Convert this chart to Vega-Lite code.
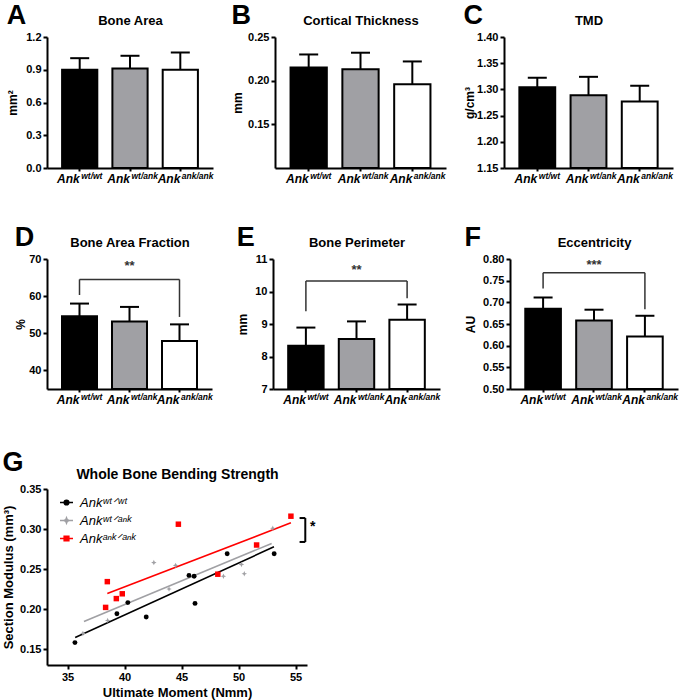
{
  "$schema": "https://vega.github.io/schema/vega-lite/v6.json",
  "padding": {"left": 2, "top": 2, "right": 0, "bottom": 2},
  "background": "white",
  "datasets": {
    "A": [{"group": "wt/wt", "mean": 0.9, "upper": 1.006}, {"group": "wt/ank", "mean": 0.912, "upper": 1.028}, {"group": "ank/ank", "mean": 0.9, "upper": 1.058}],
    "B": [{"group": "wt/wt", "mean": 0.215, "upper": 0.230}, {"group": "wt/ank", "mean": 0.213, "upper": 0.232}, {"group": "ank/ank", "mean": 0.196, "upper": 0.222}],
    "C": [{"group": "wt/wt", "mean": 1.304, "upper": 1.322}, {"group": "wt/ank", "mean": 1.289, "upper": 1.324}, {"group": "ank/ank", "mean": 1.277, "upper": 1.307}],
    "D": [{"group": "wt/wt", "mean": 54.6, "upper": 58.0}, {"group": "wt/ank", "mean": 53.2, "upper": 57.1}, {"group": "ank/ank", "mean": 47.9, "upper": 52.4}],
    "E": [{"group": "wt/wt", "mean": 8.33, "upper": 8.89}, {"group": "wt/ank", "mean": 8.54, "upper": 9.08}, {"group": "ank/ank", "mean": 9.13, "upper": 9.6}],
    "F": [{"group": "wt/wt", "mean": 0.685, "upper": 0.711}, {"group": "wt/ank", "mean": 0.658, "upper": 0.683}, {"group": "ank/ank", "mean": 0.621, "upper": 0.669}],
    "brD": [{"x": "wt/wt", "x2": "ank/ank", "y": 64.5, "y2": 64.5}, {"x": "wt/wt", "x2": "wt/wt", "y": 60.3, "y2": 64.5}, {"x": "ank/ank", "x2": "ank/ank", "y": 54.4, "y2": 64.5}],
    "brE": [{"x": "wt/wt", "x2": "ank/ank", "y": 10.32, "y2": 10.32}, {"x": "wt/wt", "x2": "wt/wt", "y": 9.39, "y2": 10.32}, {"x": "ank/ank", "x2": "ank/ank", "y": 9.79, "y2": 10.32}],
    "brF": [{"x": "wt/wt", "x2": "ank/ank", "y": 0.768, "y2": 0.768}, {"x": "wt/wt", "x2": "wt/wt", "y": 0.732, "y2": 0.768}, {"x": "ank/ank", "x2": "ank/ank", "y": 0.684, "y2": 0.768}],
    "sigD": [{"x": "wt/ank", "y": 68.0, "label": "**"}],
    "sigE": [{"x": "wt/ank", "y": 10.65, "label": "**"}],
    "sigF": [{"x": "wt/ank", "y": 0.787, "label": "***"}],
    "pts": [
      {"group": "Ankʷᵗᐟʷᵗ", "x": 35.65, "y": 0.158}, {"group": "Ankʷᵗᐟʷᵗ", "x": 39.33, "y": 0.194}, {"group": "Ankʷᵗᐟʷᵗ", "x": 40.29, "y": 0.208}, {"group": "Ankʷᵗᐟʷᵗ", "x": 41.9, "y": 0.190}, {"group": "Ankʷᵗᐟʷᵗ", "x": 45.65, "y": 0.242}, {"group": "Ankʷᵗᐟʷᵗ", "x": 46.1, "y": 0.241}, {"group": "Ankʷᵗᐟʷᵗ", "x": 46.18, "y": 0.207}, {"group": "Ankʷᵗᐟʷᵗ", "x": 49.0, "y": 0.269}, {"group": "Ankʷᵗᐟʷᵗ", "x": 53.12, "y": 0.269},
      {"group": "Ankʷᵗᐟᵃⁿᵏ", "x": 36.35, "y": 0.1695}, {"group": "Ankʷᵗᐟᵃⁿᵏ", "x": 38.52, "y": 0.1856}, {"group": "Ankʷᵗᐟᵃⁿᵏ", "x": 42.57, "y": 0.258}, {"group": "Ankʷᵗᐟᵃⁿᵏ", "x": 43.9, "y": 0.225}, {"group": "Ankʷᵗᐟᵃⁿᵏ", "x": 44.48, "y": 0.2545}, {"group": "Ankʷᵗᐟᵃⁿᵏ", "x": 48.67, "y": 0.241}, {"group": "Ankʷᵗᐟᵃⁿᵏ", "x": 50.25, "y": 0.2557}, {"group": "Ankʷᵗᐟᵃⁿᵏ", "x": 50.5, "y": 0.244}, {"group": "Ankʷᵗᐟᵃⁿᵏ", "x": 53.0, "y": 0.301},
      {"group": "Ankᵃⁿᵏᐟᵃⁿᵏ", "x": 38.49, "y": 0.2342}, {"group": "Ankᵃⁿᵏᐟᵃⁿᵏ", "x": 38.34, "y": 0.202}, {"group": "Ankᵃⁿᵏᐟᵃⁿᵏ", "x": 39.28, "y": 0.213}, {"group": "Ankᵃⁿᵏᐟᵃⁿᵏ", "x": 39.8, "y": 0.219}, {"group": "Ankᵃⁿᵏᐟᵃⁿᵏ", "x": 44.72, "y": 0.306}, {"group": "Ankᵃⁿᵏᐟᵃⁿᵏ", "x": 48.18, "y": 0.2435}, {"group": "Ankᵃⁿᵏᐟᵃⁿᵏ", "x": 51.58, "y": 0.280}, {"group": "Ankᵃⁿᵏᐟᵃⁿᵏ", "x": 54.59, "y": 0.316}
    ],
    "fits": [
      {"group": "Ankʷᵗᐟʷᵗ", "x": 35.67, "y": 0.1645}, {"group": "Ankʷᵗᐟʷᵗ", "x": 53.1, "y": 0.2777},
      {"group": "Ankʷᵗᐟᵃⁿᵏ", "x": 36.44, "y": 0.1843}, {"group": "Ankʷᵗᐟᵃⁿᵏ", "x": 52.9, "y": 0.282},
      {"group": "Ankᵃⁿᵏᐟᵃⁿᵏ", "x": 38.49, "y": 0.2194}, {"group": "Ankᵃⁿᵏᐟᵃⁿᵏ", "x": 54.59, "y": 0.3077}
    ],
    "brG": [{"x": 55.85, "x2": 55.85, "y": 0.2838, "y2": 0.3137}, {"x": 55.35, "x2": 55.85, "y": 0.3137, "y2": 0.3137}, {"x": 55.35, "x2": 55.85, "y": 0.2838, "y2": 0.2838}],
    "sigG": [{"x": 56.5, "y": 0.302, "label": "*"}]
  },
  "spacing": 44,
  "vconcat": [
    {
      "spacing": 40,
      "vconcat": [
        {
          "spacing": 17,
          "hconcat": [
            {
              "width": 166, "height": 131,
              "title": {"text": "A"},
              "data": {"name": "A"},
              "layer": [
                {"mark": {"type": "bar", "stroke": "black", "strokeWidth": 2},
                 "encoding": {
                   "x": {"field": "group", "type": "nominal", "scale": {"domain": ["wt/wt", "wt/ank", "ank/ank"], "paddingInner": 0.3, "paddingOuter": 0.3}, "axis": {"title": null, "labelExpr": "'Ank'", "labelAlign": "right", "labelDx": 3}},
                   "y": {"field": "mean", "type": "quantitative", "title": "mm²", "scale": {"domain": [0, 1.2], "nice": false, "zero": false}, "axis": {"values": [0, 0.3, 0.6, 0.9, 1.2], "format": ".1f", "titlePadding": 6}},
                   "y2": {"datum": 0},
                   "fill": {"field": "group", "type": "nominal", "scale": {"domain": ["wt/wt", "wt/ank", "ank/ank"], "range": ["black", "#a0a0a4", "white"]}, "legend": null}}},
                {"mark": {"type": "rule", "strokeWidth": 2, "color": "black"},
                 "encoding": {"x": {"field": "group", "type": "nominal", "axis": null}, "y": {"field": "mean", "type": "quantitative", "title": "mm²"}, "y2": {"field": "upper"}}},
                {"mark": {"type": "tick", "thickness": 2, "size": 19, "color": "black", "opacity": 1},
                 "encoding": {"x": {"field": "group", "type": "nominal", "axis": {"orient": "top", "title": "Bone Area", "labels": false, "ticks": false, "domain": false, "titleFontSize": 13, "titlePadding": 10}}, "y": {"field": "upper", "type": "quantitative", "title": "mm²"}}},
                {"mark": {"type": "text", "align": "left", "baseline": "top", "dx": 1.5, "dy": 4, "fontSize": 8.5, "fontWeight": "bold", "fontStyle": "italic", "color": "black"},
                 "encoding": {"x": {"field": "group", "type": "nominal", "axis": null}, "y": {"datum": 0, "type": "quantitative", "title": "mm²"}, "text": {"field": "group"}}}
              ],
              "resolve": {"axis": {"x": "independent"}}
            },
            {
              "width": 171, "height": 131,
              "title": {"text": "B"},
              "data": {"name": "B"},
              "layer": [
                {"mark": {"type": "bar", "stroke": "black", "strokeWidth": 2},
                 "encoding": {
                   "x": {"field": "group", "type": "nominal", "scale": {"domain": ["wt/wt", "wt/ank", "ank/ank"], "paddingInner": 0.3, "paddingOuter": 0.3}, "axis": {"title": null, "labelExpr": "'Ank'", "labelAlign": "right", "labelDx": 3}},
                   "y": {"field": "mean", "type": "quantitative", "title": "mm", "scale": {"domain": [0.1, 0.25], "nice": false, "zero": false}, "axis": {"values": [0.15, 0.2, 0.25], "format": ".2f", "titlePadding": 3}},
                   "y2": {"datum": 0.1},
                   "fill": {"field": "group", "type": "nominal", "scale": {"domain": ["wt/wt", "wt/ank", "ank/ank"], "range": ["black", "#a0a0a4", "white"]}, "legend": null}}},
                {"mark": {"type": "rule", "strokeWidth": 2, "color": "black"},
                 "encoding": {"x": {"field": "group", "type": "nominal", "axis": null}, "y": {"field": "mean", "type": "quantitative", "title": "mm"}, "y2": {"field": "upper"}}},
                {"mark": {"type": "tick", "thickness": 2, "size": 19, "color": "black", "opacity": 1},
                 "encoding": {"x": {"field": "group", "type": "nominal", "axis": {"orient": "top", "title": "Cortical Thickness", "labels": false, "ticks": false, "domain": false, "titleFontSize": 13, "titlePadding": 10}}, "y": {"field": "upper", "type": "quantitative", "title": "mm"}}},
                {"mark": {"type": "text", "align": "left", "baseline": "top", "dx": 1.5, "dy": 4, "fontSize": 8.5, "fontWeight": "bold", "fontStyle": "italic", "color": "black"},
                 "encoding": {"x": {"field": "group", "type": "nominal", "axis": null}, "y": {"datum": 0.1, "type": "quantitative", "title": "mm"}, "text": {"field": "group"}}}
              ],
              "resolve": {"axis": {"x": "independent"}}
            },
            {
              "width": 169, "height": 131,
              "title": {"text": "C"},
              "data": {"name": "C"},
              "layer": [
                {"mark": {"type": "bar", "stroke": "black", "strokeWidth": 2},
                 "encoding": {
                   "x": {"field": "group", "type": "nominal", "scale": {"domain": ["wt/wt", "wt/ank", "ank/ank"], "paddingInner": 0.3, "paddingOuter": 0.3}, "axis": {"title": null, "labelExpr": "'Ank'", "labelAlign": "right", "labelDx": 3}},
                   "y": {"field": "mean", "type": "quantitative", "title": "g/cm³", "scale": {"domain": [1.15, 1.4], "nice": false, "zero": false}, "axis": {"values": [1.15, 1.2, 1.25, 1.3, 1.35, 1.4], "format": ".2f", "titlePadding": 0}},
                   "y2": {"datum": 1.15},
                   "fill": {"field": "group", "type": "nominal", "scale": {"domain": ["wt/wt", "wt/ank", "ank/ank"], "range": ["black", "#a0a0a4", "white"]}, "legend": null}}},
                {"mark": {"type": "rule", "strokeWidth": 2, "color": "black"},
                 "encoding": {"x": {"field": "group", "type": "nominal", "axis": null}, "y": {"field": "mean", "type": "quantitative", "title": "g/cm³"}, "y2": {"field": "upper"}}},
                {"mark": {"type": "tick", "thickness": 2, "size": 19, "color": "black", "opacity": 1},
                 "encoding": {"x": {"field": "group", "type": "nominal", "axis": {"orient": "top", "title": "TMD", "labels": false, "ticks": false, "domain": false, "titleFontSize": 13, "titlePadding": 10}}, "y": {"field": "upper", "type": "quantitative", "title": "g/cm³"}}},
                {"mark": {"type": "text", "align": "left", "baseline": "top", "dx": 1.5, "dy": 4, "fontSize": 8.5, "fontWeight": "bold", "fontStyle": "italic", "color": "black"},
                 "encoding": {"x": {"field": "group", "type": "nominal", "axis": null}, "y": {"datum": 1.15, "type": "quantitative", "title": "g/cm³"}, "text": {"field": "group"}}}
              ],
              "resolve": {"axis": {"x": "independent"}}
            }
          ]
        },
        {
          "spacing": 23,
          "hconcat": [
            {
              "width": 165, "height": 130,
              "title": {"text": "D"},
              "layer": [
                {"data": {"name": "D"}, "mark": {"type": "bar", "stroke": "black", "strokeWidth": 2},
                 "encoding": {
                   "x": {"field": "group", "type": "nominal", "scale": {"domain": ["wt/wt", "wt/ank", "ank/ank"], "paddingInner": 0.3, "paddingOuter": 0.3}, "axis": {"title": null, "labelExpr": "'Ank'", "labelAlign": "right", "labelDx": 3}},
                   "y": {"field": "mean", "type": "quantitative", "title": "%", "scale": {"domain": [35, 70], "nice": false, "zero": false}, "axis": {"values": [40, 50, 60, 70], "format": "d", "titlePadding": 1}},
                   "y2": {"datum": 35},
                   "fill": {"field": "group", "type": "nominal", "scale": {"domain": ["wt/wt", "wt/ank", "ank/ank"], "range": ["black", "#a0a0a4", "white"]}, "legend": null}}},
                {"data": {"name": "D"}, "mark": {"type": "rule", "strokeWidth": 2, "color": "black"},
                 "encoding": {"x": {"field": "group", "type": "nominal", "axis": null}, "y": {"field": "mean", "type": "quantitative", "title": "%"}, "y2": {"field": "upper"}}},
                {"data": {"name": "D"}, "mark": {"type": "tick", "thickness": 2, "size": 19, "color": "black", "opacity": 1},
                 "encoding": {"x": {"field": "group", "type": "nominal", "axis": {"orient": "top", "title": "Bone Area Fraction", "labels": false, "ticks": false, "domain": false, "titleFontSize": 13, "titlePadding": 10}}, "y": {"field": "upper", "type": "quantitative", "title": "%"}}},
                {"data": {"name": "D"}, "mark": {"type": "text", "align": "left", "baseline": "top", "dx": 1.5, "dy": 4, "fontSize": 8.5, "fontWeight": "bold", "fontStyle": "italic", "color": "black"},
                 "encoding": {"x": {"field": "group", "type": "nominal", "axis": null}, "y": {"datum": 35, "type": "quantitative", "title": "%"}, "text": {"field": "group"}}},
                {"data": {"name": "brD"}, "mark": {"type": "rule", "strokeWidth": 1.5, "color": "#333333"},
                 "encoding": {"x": {"field": "x", "type": "nominal", "axis": null}, "x2": {"field": "x2"}, "y": {"field": "y", "type": "quantitative", "title": "%"}, "y2": {"field": "y2"}}},
                {"data": {"name": "sigD"}, "mark": {"type": "text", "fontSize": 13, "fontWeight": "bold", "color": "#333333"},
                 "encoding": {"x": {"field": "x", "type": "nominal", "axis": null}, "y": {"field": "y", "type": "quantitative", "title": "%"}, "text": {"field": "label"}}}
              ],
              "resolve": {"axis": {"x": "independent"}}
            },
            {
              "width": 167, "height": 130,
              "title": {"text": "E"},
              "layer": [
                {"data": {"name": "E"}, "mark": {"type": "bar", "stroke": "black", "strokeWidth": 2},
                 "encoding": {
                   "x": {"field": "group", "type": "nominal", "scale": {"domain": ["wt/wt", "wt/ank", "ank/ank"], "paddingInner": 0.3, "paddingOuter": 0.3}, "axis": {"title": null, "labelExpr": "'Ank'", "labelAlign": "right", "labelDx": 3}},
                   "y": {"field": "mean", "type": "quantitative", "title": "mm", "scale": {"domain": [7, 11], "nice": false, "zero": false}, "axis": {"values": [7, 8, 9, 10, 11], "format": "d", "titlePadding": 5}},
                   "y2": {"datum": 7},
                   "fill": {"field": "group", "type": "nominal", "scale": {"domain": ["wt/wt", "wt/ank", "ank/ank"], "range": ["black", "#a0a0a4", "white"]}, "legend": null}}},
                {"data": {"name": "E"}, "mark": {"type": "rule", "strokeWidth": 2, "color": "black"},
                 "encoding": {"x": {"field": "group", "type": "nominal", "axis": null}, "y": {"field": "mean", "type": "quantitative", "title": "mm"}, "y2": {"field": "upper"}}},
                {"data": {"name": "E"}, "mark": {"type": "tick", "thickness": 2, "size": 19, "color": "black", "opacity": 1},
                 "encoding": {"x": {"field": "group", "type": "nominal", "axis": {"orient": "top", "title": "Bone Perimeter", "labels": false, "ticks": false, "domain": false, "titleFontSize": 13, "titlePadding": 10}}, "y": {"field": "upper", "type": "quantitative", "title": "mm"}}},
                {"data": {"name": "E"}, "mark": {"type": "text", "align": "left", "baseline": "top", "dx": 1.5, "dy": 4, "fontSize": 8.5, "fontWeight": "bold", "fontStyle": "italic", "color": "black"},
                 "encoding": {"x": {"field": "group", "type": "nominal", "axis": null}, "y": {"datum": 7, "type": "quantitative", "title": "mm"}, "text": {"field": "group"}}},
                {"data": {"name": "brE"}, "mark": {"type": "rule", "strokeWidth": 1.5, "color": "#333333"},
                 "encoding": {"x": {"field": "x", "type": "nominal", "axis": null}, "x2": {"field": "x2"}, "y": {"field": "y", "type": "quantitative", "title": "mm"}, "y2": {"field": "y2"}}},
                {"data": {"name": "sigE"}, "mark": {"type": "text", "fontSize": 13, "fontWeight": "bold", "color": "#333333"},
                 "encoding": {"x": {"field": "x", "type": "nominal", "axis": null}, "y": {"field": "y", "type": "quantitative", "title": "mm"}, "text": {"field": "label"}}}
              ],
              "resolve": {"axis": {"x": "independent"}}
            },
            {
              "width": 168, "height": 130,
              "title": {"text": "F"},
              "layer": [
                {"data": {"name": "F"}, "mark": {"type": "bar", "stroke": "black", "strokeWidth": 2},
                 "encoding": {
                   "x": {"field": "group", "type": "nominal", "scale": {"domain": ["wt/wt", "wt/ank", "ank/ank"], "paddingInner": 0.3, "paddingOuter": 0.3}, "axis": {"title": null, "labelExpr": "'Ank'", "labelAlign": "right", "labelDx": 3}},
                   "y": {"field": "mean", "type": "quantitative", "title": "AU", "scale": {"domain": [0.5, 0.8], "nice": false, "zero": false}, "axis": {"values": [0.5, 0.55, 0.6, 0.65, 0.7, 0.75, 0.8], "format": ".2f", "titlePadding": 5}},
                   "y2": {"datum": 0.5},
                   "fill": {"field": "group", "type": "nominal", "scale": {"domain": ["wt/wt", "wt/ank", "ank/ank"], "range": ["black", "#a0a0a4", "white"]}, "legend": null}}},
                {"data": {"name": "F"}, "mark": {"type": "rule", "strokeWidth": 2, "color": "black"},
                 "encoding": {"x": {"field": "group", "type": "nominal", "axis": null}, "y": {"field": "mean", "type": "quantitative", "title": "AU"}, "y2": {"field": "upper"}}},
                {"data": {"name": "F"}, "mark": {"type": "tick", "thickness": 2, "size": 19, "color": "black", "opacity": 1},
                 "encoding": {"x": {"field": "group", "type": "nominal", "axis": {"orient": "top", "title": "Eccentricity", "labels": false, "ticks": false, "domain": false, "titleFontSize": 13, "titlePadding": 10}}, "y": {"field": "upper", "type": "quantitative", "title": "AU"}}},
                {"data": {"name": "F"}, "mark": {"type": "text", "align": "left", "baseline": "top", "dx": 1.5, "dy": 4, "fontSize": 8.5, "fontWeight": "bold", "fontStyle": "italic", "color": "black"},
                 "encoding": {"x": {"field": "group", "type": "nominal", "axis": null}, "y": {"datum": 0.5, "type": "quantitative", "title": "AU"}, "text": {"field": "group"}}},
                {"data": {"name": "brF"}, "mark": {"type": "rule", "strokeWidth": 1.5, "color": "#333333"},
                 "encoding": {"x": {"field": "x", "type": "nominal", "axis": null}, "x2": {"field": "x2"}, "y": {"field": "y", "type": "quantitative", "title": "AU"}, "y2": {"field": "y2"}}},
                {"data": {"name": "sigF"}, "mark": {"type": "text", "fontSize": 13, "fontWeight": "bold", "color": "#333333"},
                 "encoding": {"x": {"field": "x", "type": "nominal", "axis": null}, "y": {"field": "y", "type": "quantitative", "title": "AU"}, "text": {"field": "label"}}}
              ],
              "resolve": {"axis": {"x": "independent"}}
            }
          ]
        }
      ]
    },
    {
      "width": 260, "height": 176,
      "title": {"text": "G", "offset": -10},
      "layer": [
        {"data": {"name": "fits"}, "mark": {"type": "line", "strokeWidth": 1.6},
         "encoding": {
           "x": {"field": "x", "type": "quantitative", "scale": {"domain": [33.2, 56], "nice": false, "zero": false}, "axis": {"values": [35, 40, 45, 50, 55], "title": "Ultimate Moment (Nmm)", "labelFontStyle": "normal", "labelFontSize": 11, "titleFontSize": 13, "tickSize": 4}},
           "y": {"field": "y", "type": "quantitative", "title": "Section Modulus (mm³)", "scale": {"domain": [0.13, 0.35], "nice": false, "zero": false}, "axis": {"values": [0.15, 0.2, 0.25, 0.3, 0.35], "format": ".2f", "titleFontSize": 13}},
           "color": {"field": "group", "type": "nominal", "scale": {"domain": ["Ankʷᵗᐟʷᵗ", "Ankʷᵗᐟᵃⁿᵏ", "Ankᵃⁿᵏᐟᵃⁿᵏ"], "range": ["black", "#a0a0a4", "#ff0000"]},
             "legend": {"orient": "none", "legendX": 12, "legendY": 458, "padding": 0, "title": null, "labelFont": "Liberation Sans", "labelFontSize": 13, "labelFontStyle": "italic", "labelFontWeight": "normal", "labelColor": "black", "symbolSize": 169, "rowPadding": 3, "labelOffset": 6,
               "encode": {"symbols": {"update": {
                 "shape": {"signal": "datum.value === 'Ankʷᵗᐟʷᵗ' ? 'M-1,0H1M-0.36,0A0.36,0.36,0,1,1,0.36,0A0.36,0.36,0,1,1,-0.36,0Z' : datum.value === 'Ankʷᵗᐟᵃⁿᵏ' ? 'M-1,0H1M0,-0.42L0.12,-0.12L0.42,0L0.12,0.12L0,0.42L-0.12,0.12L-0.42,0L-0.12,-0.12Z' : 'M-1,0H1M-0.36,-0.36H0.36V0.36H-0.36Z'"},
                 "fill": {"scale": "color", "field": "value"},
                 "stroke": {"scale": "color", "field": "value"},
                 "strokeWidth": {"value": 1.5},
                 "opacity": {"value": 1}
               }}}}}}},
        {"data": {"name": "pts"}, "transform": [{"filter": "datum.group === 'Ankʷᵗᐟʷᵗ'"}], "mark": {"type": "point", "filled": true, "opacity": 1, "shape": "circle", "size": 24},
         "encoding": {"x": {"field": "x", "type": "quantitative", "axis": null}, "y": {"field": "y", "type": "quantitative", "title": "Section Modulus (mm³)"}, "color": {"field": "group", "type": "nominal"}}},
        {"data": {"name": "pts"}, "transform": [{"filter": "datum.group === 'Ankʷᵗᐟᵃⁿᵏ'"}], "mark": {"type": "point", "filled": true, "opacity": 1, "shape": "M0,-1L0.3,-0.3L1,0L0.3,0.3L0,1L-0.3,0.3L-1,0L-0.3,-0.3Z", "size": 30},
         "encoding": {"x": {"field": "x", "type": "quantitative", "axis": null}, "y": {"field": "y", "type": "quantitative", "title": "Section Modulus (mm³)"}, "color": {"field": "group", "type": "nominal"}}},
        {"data": {"name": "pts"}, "transform": [{"filter": "datum.group === 'Ankᵃⁿᵏᐟᵃⁿᵏ'"}], "mark": {"type": "point", "filled": true, "opacity": 1, "shape": "square", "size": 30},
         "encoding": {"x": {"field": "x", "type": "quantitative", "axis": null}, "y": {"field": "y", "type": "quantitative", "title": "Section Modulus (mm³)"}, "color": {"field": "group", "type": "nominal"}}},
        {"data": {"name": "brG"}, "mark": {"type": "rule", "strokeWidth": 2, "color": "black"},
         "encoding": {"x": {"field": "x", "type": "quantitative", "axis": {"orient": "top", "title": "Whole Bone Bending Strength", "labels": false, "ticks": false, "domain": false, "titleFontSize": 14, "titlePadding": 8}}, "x2": {"field": "x2"}, "y": {"field": "y", "type": "quantitative", "title": "Section Modulus (mm³)"}, "y2": {"field": "y2"}}},
        {"data": {"name": "sigG"}, "mark": {"type": "text", "fontSize": 14, "fontWeight": "bold", "color": "black"},
         "encoding": {"x": {"field": "x", "type": "quantitative", "axis": null}, "y": {"field": "y", "type": "quantitative", "title": "Section Modulus (mm³)"}, "text": {"field": "label"}}}
      ],
      "resolve": {"axis": {"x": "independent"}}
    }
  ],
  "config": {
    "font": "Liberation Sans",
    "view": {"stroke": null},
    "axis": {"grid": false, "labelOverlap": false, "tickCount": 20, "domainColor": "black", "domainWidth": 2, "tickColor": "black", "tickWidth": 2, "tickSize": 4, "labelFont": "Liberation Sans", "labelFontWeight": "bold", "labelFontSize": 11, "labelColor": "black", "titleFont": "Liberation Sans", "titleFontWeight": "bold", "titleFontSize": 12, "titleColor": "black"},
    "axisX": {"labelFontStyle": "italic", "labelFontSize": 12, "tickSize": 3, "labelAngle": 0, "labelPadding": 2},
    "title": {"font": "Liberation Sans", "fontSize": 27, "fontWeight": "bold", "anchor": "start", "frame": "bounds", "color": "black", "offset": -16}
  }
}
